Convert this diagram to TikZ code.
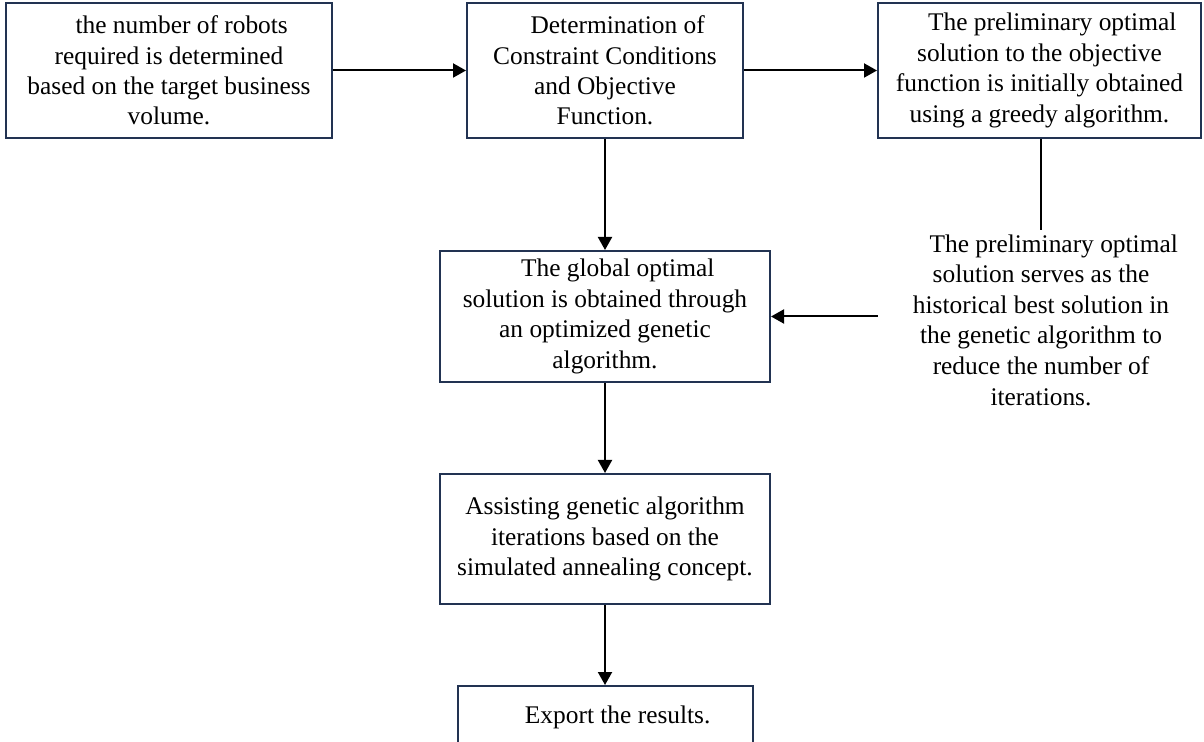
\documentclass[tikz,border=0pt]{standalone}
\usepackage{fontspec}
\setmainfont{Liberation Serif}
\usetikzlibrary{arrows.meta}
\definecolor{boxline}{HTML}{223352}
\begin{document}
\begin{tikzpicture}[x=0.5pt,y=-0.5pt,
  box/.style={draw=boxline, line width=1pt, fill=white, align=center,
    font=\fontsize{12.7}{15.2}\selectfont, inner sep=0pt},
  plain/.style={align=center, font=\fontsize{12.7}{15.3}\selectfont, inner sep=0pt},
  arr/.style={draw=black, line width=1pt, -{Triangle[length=6.5pt,width=7pt]}},
  lin/.style={draw=black, line width=1pt}]
\useasboundingbox (0,0) rectangle (1204,742);
\clip (0,0) rectangle (1204,742);
\fill[white] (0,0) rectangle (1204,742);

\node[box, minimum width=163pt, minimum height=67.5pt] (b1) at (169,70.5)
  {\hspace*{1em}the number of robots\\required is determined\\based on the target business\\volume.};
\node[box, minimum width=138pt, minimum height=67.5pt] (b2) at (605,70.5)
  {\hspace*{1em}Determination of\\Constraint Conditions\\and Objective\\Function.};
\node[box, minimum width=161.5pt, minimum height=67.5pt] (b3) at (1039.5,70.5)
  {\hspace*{1em}The preliminary optimal\\solution to the objective\\function is initially obtained\\using a greedy algorithm.};
\node[box, minimum width=165pt, minimum height=65.5pt] (b4) at (605,316.5)
  {\hspace*{1em}The global optimal\\solution is obtained through\\an optimized genetic\\algorithm.};
\node[plain, minimum width=163pt] (rt) at (1041,320)
  {\hspace*{1em}The preliminary optimal\\solution serves as the\\historical best solution in\\the genetic algorithm to\\reduce the number of\\iterations.};
\node[box, minimum width=165pt, minimum height=65pt] (b5) at (605,539)
  {Assisting genetic algorithm\\iterations based on the\\simulated annealing concept.};
\node[box, anchor=north, minimum width=147.5pt, inner ysep=4pt, text height=14.5pt, text depth=40pt] (b6) at (605,685)
  {\hspace*{1em}Export the results.};

\draw[arr] (b1.east) -- (b2.west);
\draw[arr] (b2.east) -- (b3.west);
\draw[arr] (b2.south) -- (b4.north);
\draw[lin] (b3.south -| rt.north) -- ([yshift=2pt]rt.north);
\draw[arr] (rt.west |- b4.east) -- (b4.east);
\draw[arr] (b4.south) -- (b5.north);
\draw[arr] (b5.south) -- (b6.north);
\end{tikzpicture}
\end{document}
